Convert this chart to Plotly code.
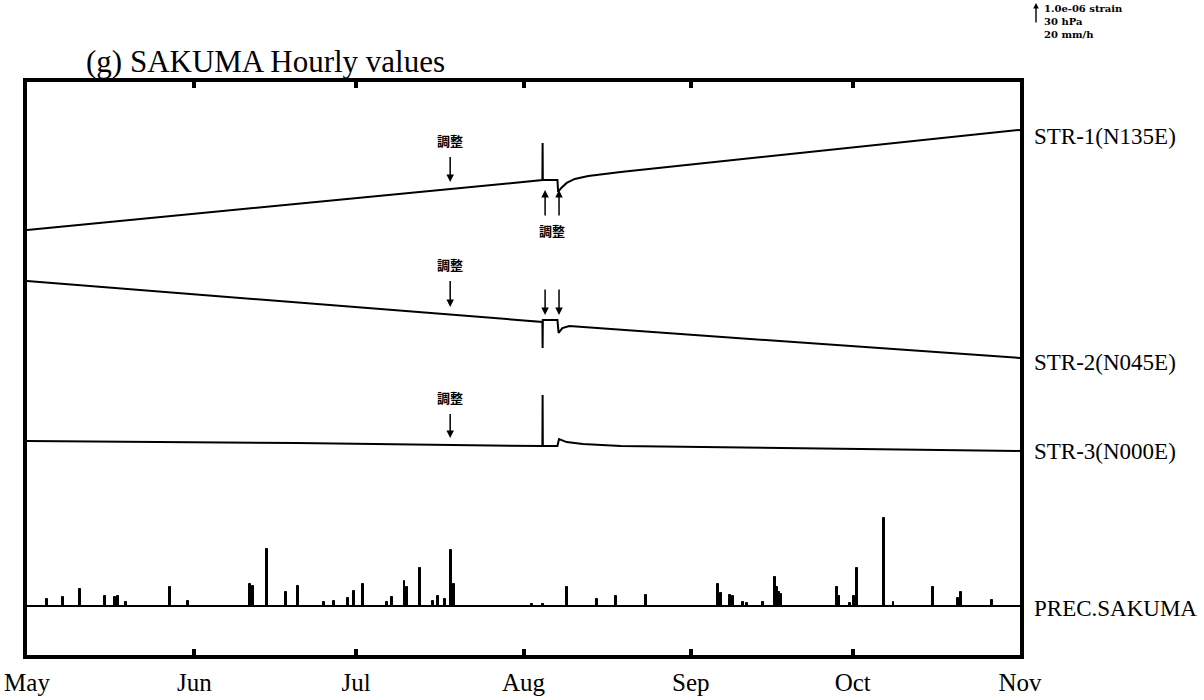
import plotly.graph_objects as go

# ---------------- data ----------------
START = "1997-05-01"
END = "1997-11-01"
MONTH_TICKS = ["1997-05-01", "1997-06-01", "1997-07-01", "1997-08-01",
               "1997-09-01", "1997-10-01", "1997-11-01"]
MONTH_LABELS = ["May", "Jun", "Jul", "Aug", "Sep", "Oct", "Nov"]

# strain changes in units of 1.0e-06 (relative to May 1)
STR1_TIME = ["1997-05-01 00:00", "1997-08-04 12:00", "1997-08-04 13:00", "1997-08-04 14:00",
             "1997-08-07 07:00", "1997-08-07 10:00", "1997-08-08 00:00", "1997-08-09 00:00",
             "1997-08-10 12:00", "1997-08-13 00:00", "1997-08-19 00:00", "1997-11-01 00:00"]
STR1_VAL = [0.00, 2.27, 3.95, 2.27, 2.27, 1.73, 1.91, 2.14, 2.32, 2.45, 2.64, 4.55]

STR2_TIME = ["1997-05-01 00:00", "1997-08-04 12:00", "1997-08-04 13:00", "1997-08-04 14:00",
             "1997-08-07 07:00", "1997-08-07 12:00", "1997-08-08 05:00", "1997-08-09 12:00",
             "1997-11-01 00:00"]
STR2_VAL = [0.00, -1.86, -3.05, -1.77, -1.77, -2.36, -2.14, -2.05, -3.50]

STR3_TIME = ["1997-05-01 00:00", "1997-06-20 00:00", "1997-08-04 12:00", "1997-08-04 13:00",
             "1997-08-04 14:00", "1997-08-07 07:00", "1997-08-07 14:00", "1997-08-09 00:00",
             "1997-08-12 00:00", "1997-08-19 00:00", "1997-11-01 00:00"]
STR3_VAL = [0.00, -0.09, -0.23, 2.09, -0.23, -0.23, 0.09, -0.05, -0.14, -0.23, -0.45]

# hourly precipitation (mm/h), only non-zero hours
PREC_TIME = ["1997-05-04 17:00", "1997-05-07 17:00", "1997-05-10 19:00", "1997-05-15 12:00",
             "1997-05-17 07:00", "1997-05-17 22:00", "1997-05-19 07:00", "1997-05-27 12:00",
             "1997-05-30 19:00", "1997-06-11 07:00", "1997-06-11 22:00", "1997-06-14 12:00",
             "1997-06-18 00:00", "1997-06-20 05:00", "1997-06-25 00:00", "1997-06-26 22:00",
             "1997-06-29 12:00", "1997-06-30 14:00", "1997-07-02 07:00", "1997-07-06 17:00",
             "1997-07-07 14:00", "1997-07-09 22:00", "1997-07-10 10:00", "1997-07-12 19:00",
             "1997-07-15 05:00", "1997-07-16 05:00", "1997-07-17 10:00", "1997-07-18 14:00",
             "1997-07-19 02:00", "1997-08-02 14:00", "1997-08-04 14:00", "1997-08-09 02:00",
             "1997-08-14 14:00", "1997-08-18 02:00", "1997-08-23 17:00", "1997-09-06 00:00",
             "1997-09-06 14:00", "1997-09-08 07:00", "1997-09-08 19:00", "1997-09-10 17:00",
             "1997-09-11 10:00", "1997-09-14 10:00", "1997-09-16 14:00", "1997-09-17 00:00",
             "1997-09-17 07:00", "1997-09-17 17:00", "1997-09-28 02:00", "1997-09-28 12:00",
             "1997-09-30 12:00", "1997-10-01 05:00", "1997-10-01 19:00", "1997-10-06 19:00",
             "1997-10-08 14:00", "1997-10-15 22:00", "1997-10-20 12:00", "1997-10-21 02:00",
             "1997-10-26 19:00"]
PREC_MM = [6.4, 8.2, 15.5, 9.1, 8.2, 9.1, 3.6, 17.3, 4.5, 20.0, 18.2, 51.5,
           12.7, 18.2, 3.6, 4.5, 7.3, 13.6, 20.0, 3.6, 8.2, 22.7, 17.3, 34.5,
           4.5, 9.1, 6.4, 51.0, 20.0, 1.8, 1.8, 17.3, 6.4, 9.1, 10.0, 20.0,
           11.8, 10.0, 9.1, 3.6, 2.7, 3.6, 26.4, 17.3, 12.7, 10.9, 17.3, 9.1,
           2.7, 9.1, 34.5, 80.0, 3.6, 17.3, 7.3, 12.7, 5.5]

CHANNELS = ["STR-1(N135E)", "STR-2(N045E)", "STR-3(N000E)", "PREC.SAKUMA"]
SCALE_LINES = ["1.0e-06 strain", "30 hPa", "20 mm/h"]
ADJ = "調整"

# ---------------- layout helpers ----------------
W, H = 1204, 700
L, R, T, B = 27, 1020, 82, 655           # plot-area box in page pixels
PX_PER_UNIT = 22.0                       # length of the scale arrow
YMAX = (B - T) / PX_PER_UNIT
MM_PER_UNIT = 20.0


def yu(py):                              # page pixel row -> y-axis value
    return (B - py) / PX_PER_UNIT


def px_x(px):
    return (px - L) / (R - L)


def px_y(py):
    return (B - py) / (B - T)


OFF1, OFF2, OFF3, OFFP = yu(230), yu(281), yu(441), yu(606)

SERIF = "Liberation Serif, Times New Roman, serif"
CJK = "Noto Sans CJK JP"

fig = go.Figure()
for t, v, off in [(STR1_TIME, STR1_VAL, OFF1), (STR2_TIME, STR2_VAL, OFF2),
                  (STR3_TIME, STR3_VAL, OFF3)]:
    fig.add_trace(go.Scatter(x=t, y=[off + a for a in v], mode="lines",
                             line=dict(color="black", width=2), hoverinfo="skip"))

fig.add_trace(go.Scatter(x=[START, END], y=[OFFP, OFFP], mode="lines",
                         line=dict(color="black", width=1.8), hoverinfo="skip"))
fig.add_trace(go.Bar(x=PREC_TIME, y=[m / MM_PER_UNIT for m in PREC_MM], base=OFFP,
                     width=0.3 * 86400000, marker=dict(color="black",
                     line=dict(color="black", width=1)), hoverinfo="skip"))

ann = []
# right-hand channel labels
for name, py in zip(CHANNELS, [136, 362, 451, 608]):
    ann.append(dict(xref="paper", yref="y", x=px_x(1032), y=yu(py), text=name,
                    showarrow=False, xanchor="left", yanchor="middle",
                    font=dict(family=SERIF, size=23, color="black")))

# title
ann.append(dict(xref="paper", yref="paper", x=px_x(84), y=px_y(62),
                text="(g) SAKUMA Hourly values", showarrow=False,
                xanchor="left", yanchor="middle",
                font=dict(family=SERIF, size=31, color="black")))

# scale legend
ann.append(dict(xref="paper", yref="paper", x=px_x(1036), y=px_y(3), ax=0, ay=21,
                text="", showarrow=True, arrowhead=2, arrowsize=0.8, arrowwidth=1.4,
                arrowcolor="black"))
ann.append(dict(xref="paper", yref="paper", x=px_x(1043), y=px_y(2),
                text="<b>" + "<br>".join(SCALE_LINES) + "</b>",
                showarrow=False, xanchor="left", yanchor="top", align="left",
                borderpad=0,
                font=dict(family="DejaVu Serif", size=10, color="black")))

arrow_style = dict(showarrow=True, arrowhead=2, arrowsize=1, arrowwidth=1.5,
                   arrowcolor="black", standoff=0, xref="x", yref="y",
                   font=dict(family=CJK, size=13, color="black"))
# adjustment markers (Jul 18)
for tip, text_py in [(182, 140), (307, 264), (438, 397)]:
    ann.append(dict(x="1997-07-18 10:00", y=yu(tip), ax=0, ay=text_py - tip,
                    text=f"<b>{ADJ}</b>", startstandoff=6, **arrow_style))
# adjustment markers (Aug) – STR-1 upward
for xt in ["1997-08-05 00:00", "1997-08-07 14:00"]:
    ann.append(dict(x=xt, y=yu(190), ax=0, ay=27, text="", **arrow_style))
ann.append(dict(x="1997-08-06 06:00", y=yu(230), text=f"<b>{ADJ}</b>", showarrow=False,
                xref="x", yref="y", font=dict(family=CJK, size=13, color="black")))
# STR-2 downward
for xt in ["1997-08-05 00:00", "1997-08-07 14:00"]:
    ann.append(dict(x=xt, y=yu(315), ax=0, ay=-27, text="", **arrow_style))

fig.update_layout(
    width=W, height=H,
    margin=dict(l=L, r=W - R, t=T, b=H - B, pad=0, autoexpand=False),
    paper_bgcolor="white", plot_bgcolor="white",
    showlegend=False, bargap=0,
    annotations=ann,
    xaxis=dict(type="date", range=[START, END], tickmode="array",
               tickvals=MONTH_TICKS, ticktext=MONTH_LABELS,
               ticks="inside", ticklen=6, tickwidth=4, tickcolor="black",
               showline=True, linewidth=3.5, linecolor="black", mirror="allticks",
               showgrid=False, zeroline=False, ticklabelstandoff=2,
               automargin=False, ticklabeloverflow="allow",
               tickfont=dict(family=SERIF, size=25, color="black")),
    yaxis=dict(range=[0, YMAX], showline=True, linewidth=3.5, linecolor="black",
               mirror=True, ticks="", showticklabels=False, showgrid=False,
               zeroline=False, automargin=False),
)

fig.write_html("out.html", config={"displayModeBar": False},
               post_script="document.body.style.margin='0px';"
                           "document.body.style.overflow='hidden';")
